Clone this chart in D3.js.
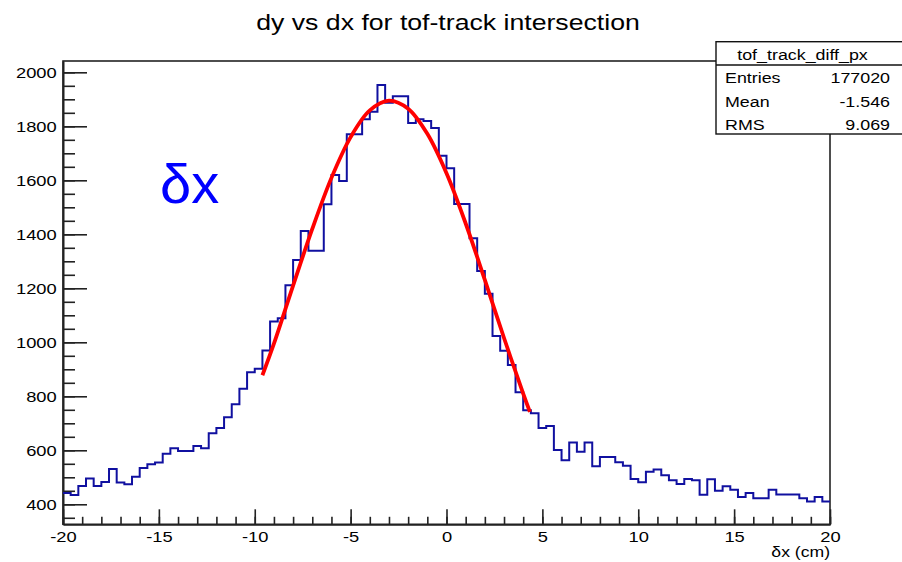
<!DOCTYPE html>
<html>
<head>
<meta charset="utf-8">
<script src="https://cdn.jsdelivr.net/npm/d3@7"></script>
<style>
  body { margin: 0; background: #fff; }
  text { font-family: "Liberation Sans", Arial, Helvetica, sans-serif; }
</style>
</head>
<body>
<div id="chart"></div>
<script>
// histogram: 100 bins from -20 to 20 (cm)
var xRange = [-20, 20]
var nBins = 100
var counts = [
  442, 434, 468, 496, 468, 483, 531, 481, 474, 502,
  534, 548, 555, 587, 608, 597, 597, 616, 608, 663,
  683, 722, 771, 828, 889, 902, 970, 1077, 1089, 1211,
  1305, 1412, 1339, 1339, 1511, 1620, 1597, 1771, 1771, 1826,
  1854, 1953, 1887, 1911, 1911, 1812, 1826, 1820, 1794, 1691,
  1645, 1512, 1512, 1385, 1264, 1180, 1023, 969, 916, 815,
  748, 737, 683, 690, 601, 563, 629, 595, 629, 541,
  575, 575, 556, 543, 494, 482, 521, 529, 508, 489,
  475, 494, 489, 435, 493, 450, 467, 454, 427, 442,
  422, 422, 454, 436, 436, 436, 422, 410, 427, 410
]

// gaussian fit, points
var fitX = [-9.6, -9, -8, -7, -6, -5, -4, -3, -2, -1, 0, 1, 2, 3, 4, 4.35]
var fitY = [878, 995, 1210, 1420, 1609, 1760, 1859, 1895, 1865, 1772, 1626, 1440, 1231, 1016, 810, 742]

var xMajor = [-20, -15, -10, -5, 0, 5, 10, 15, 20]
var yMajor = [400, 600, 800, 1000, 1200, 1400, 1600, 1800, 2000]
var yRange = [325.9, 2041.9]

var title = 'dy vs dx for tof-track intersection'
var xTitle = 'δx (cm)'
var statsName = 'tof_track_diff_px'
var statsLabels = ['Entries', 'Mean', 'RMS']
var statsValues = ['177020', '-1.546', '9.069']

// ROOT text in the picture is stretched sideways
var SX = 1.19

var W = 902, H = 562
var margin = {top: 61, right: 72, bottom: 37.7, left: 63},
  width = W - margin.left - margin.right,
  height = H - margin.top - margin.bottom

var svg = d3.select('#chart')
  .append('svg')
  .attr('width', W)
  .attr('height', H)

function label (x, y, str, size, anchor, color) {
  return svg.append('g')
    .attr('transform', 'translate(' + x + ',' + y + ')')
    .append('text')
    .attr('transform', 'scale(' + SX + ',1)')
    .attr('text-anchor', anchor || 'start')
    .style('font-size', size + 'px')
    .style('fill', color || '#000')
    .text(str)
}

// plain hyphen for negatives, like ROOT
function fmt (d) { return String(d) }

var g = svg.append('g')
  .attr('transform', 'translate(' + margin.left + ',' + margin.top + ')')

var x = d3.scaleLinear().domain(xRange).range([0, width])
var y = d3.scaleLinear().domain(yRange).range([height, 0])

// frame
g.append('rect')
  .attr('width', width)
  .attr('height', height)
  .attr('fill', 'none')
  .attr('stroke', '#222')
  .attr('stroke-width', 1.6)

// X axis minor + major ticks
var xMinor = d3.range(xRange[0], xRange[1] + 1, 1)
g.append('g')
  .attr('class', 'axis')
  .attr('transform', 'translate(0,' + height + ')')
  .call(d3.axisBottom(x).tickValues(xMinor).tickSizeInner(-7.5).tickSizeOuter(0).tickFormat(''))
g.append('g')
  .attr('class', 'axis')
  .attr('transform', 'translate(0,' + height + ')')
  .call(d3.axisBottom(x).tickValues(xMajor).tickSizeInner(-15).tickSizeOuter(0).tickPadding(6.5).tickFormat(fmt))

// Y axis minor + major ticks
var yMinor = d3.range(350, 2001, 50)
g.append('g')
  .attr('class', 'axis')
  .call(d3.axisLeft(y).tickValues(yMinor).tickSizeInner(-12).tickSizeOuter(0).tickFormat(''))
g.append('g')
  .attr('class', 'axis')
  .call(d3.axisLeft(y).tickValues(yMajor).tickSizeInner(-24).tickSizeOuter(0).tickPadding(5.3).tickFormat(fmt))

g.selectAll('.axis path, .axis line')
  .attr('stroke', '#222')
  .attr('stroke-width', 1.6)
g.selectAll('.axis text')
  .attr('transform', 'scale(' + SX + ',1)')
  .style('font-family', '"Liberation Sans", Arial, sans-serif')
  .style('font-size', '15.4px')
  .style('fill', '#000')

// histogram outline
var edges = d3.range(nBins + 1).map(function (i) { return xRange[0] + i * (xRange[1] - xRange[0]) / nBins })
var pts = counts.map(function (c, i) { return [edges[i], c] })
pts.push([edges[nBins], counts[nBins - 1]])

g.append('path')
  .datum(pts)
  .attr('fill', 'none')
  .attr('stroke', '#1010a0')
  .attr('stroke-width', 2)
  .attr('d', d3.line()
    .x(function (d) { return x(d[0]) })
    .y(function (d) { return y(d[1]) })
    .curve(d3.curveStepAfter))

// fit curve
g.append('path')
  .datum(fitX.map(function (v, i) { return [v, fitY[i]] }))
  .attr('fill', 'none')
  .attr('stroke', '#ff0000')
  .attr('stroke-width', 3.8)
  .attr('d', d3.line()
    .x(function (d) { return x(d[0]) })
    .y(function (d) { return y(d[1]) })
    .curve(d3.curveCatmullRom))

// title and axis title
label(448, 30, title, 22.4, 'middle')
label(830, 557, xTitle, 14.8, 'end')

// stats box
var box = {x: 716, y: 41.7, w: 200, h: 92.3, head: 23.3}
svg.append('rect')
  .attr('x', box.x)
  .attr('y', box.y)
  .attr('width', box.w)
  .attr('height', box.h)
  .attr('fill', '#fff')
  .attr('stroke', '#111')
  .attr('stroke-width', 1.4)
svg.append('line')
  .attr('x1', box.x)
  .attr('x2', box.x + box.w)
  .attr('y1', box.y + box.head)
  .attr('y2', box.y + box.head)
  .attr('stroke', '#111')
  .attr('stroke-width', 1.4)
label(802.5, 60, statsName, 15, 'middle')
statsLabels.forEach(function (s, i) {
  label(725, 83.3 + i * 23.4, s, 15, 'start')
  label(890, 83.3 + i * 23.4, statsValues[i], 15, 'end')
})

// annotation
label(160, 203, 'δx', 56, 'start', '#0000ff')
  .attr('transform', null)
</script>
</body>
</html>
